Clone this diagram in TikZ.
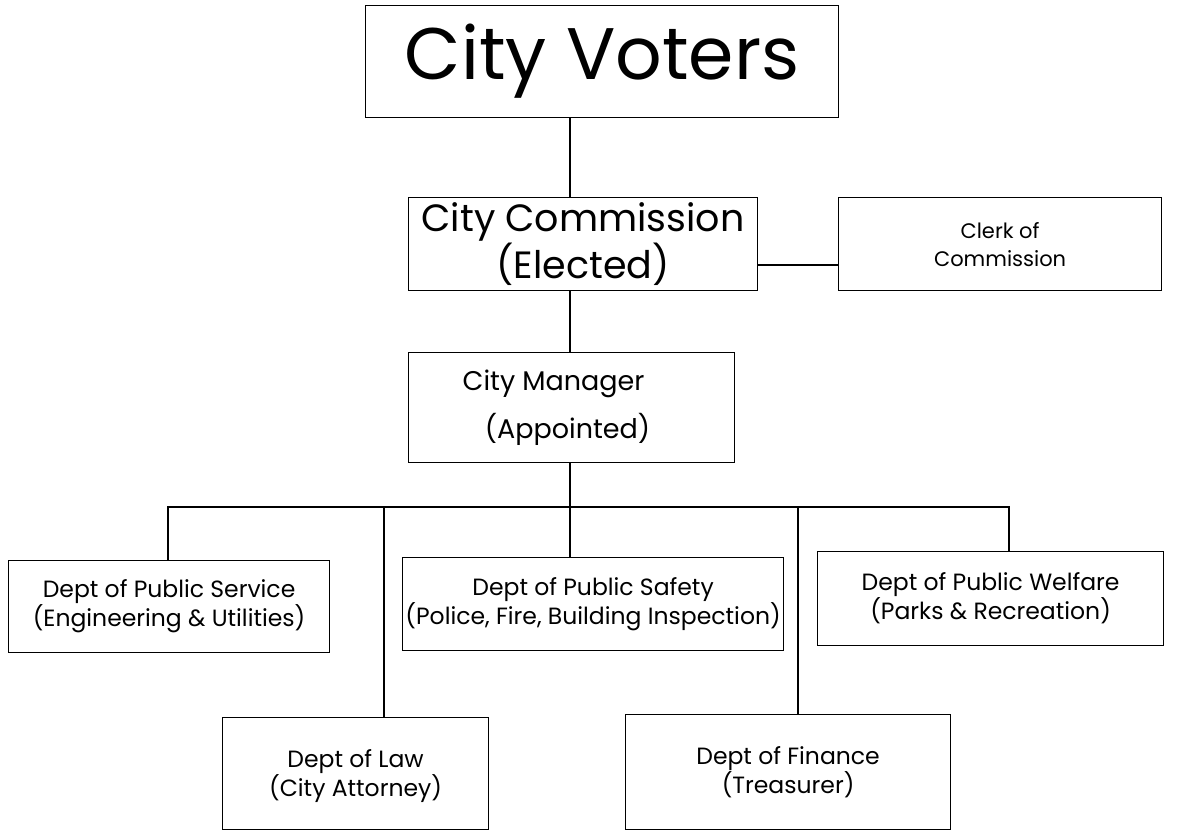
\documentclass[tikz,border=0pt]{standalone}
\usepackage{fontspec}
\setmainfont{Poppins}
\begin{document}
\begin{tikzpicture}[x=1pt,y=-1pt,
  box/.style={draw, line width=1.2pt, anchor=north west, inner sep=0pt, align=center},
  dept/.style={box, font=\fontsize{23.5}{28}\selectfont},
  conn/.style={line width=1.2pt}]
\useasboundingbox (0,0) rectangle (1180,831);
\fill[white] (0,0) rectangle (1180,831);
\node[box, minimum width=473pt, minimum height=112pt, font=\fontsize{73}{80}\selectfont] (voters) at (365,5) {City Voters};
\node[box, minimum width=349pt, minimum height=93pt, font=\fontsize{38}{42}\selectfont] (comm) at (408,197) {City Commission\\(Elected)};
\node[box, minimum width=323pt, minimum height=93pt, font=\fontsize{21}{28}\selectfont] (clerk) at (838,197) {Clerk of\\Commission};
\node[box, minimum width=326pt, minimum height=110pt, font=\fontsize{27}{48}\selectfont] (mgr) at (408,352) {City Manager\hspace*{36pt}\\(Appointed)\hspace*{8pt}};
\node[dept, minimum width=321pt, minimum height=92pt] (serv) at (8,560) {Dept of Public Service\\(Engineering \& Utilities)};
\node[dept, minimum width=381pt, minimum height=93pt] (safe) at (402,557) {Dept of Public Safety\\(Police, Fire, Building Inspection)};
\node[dept, minimum width=346pt, minimum height=94pt] (welf) at (817,551) {Dept of Public Welfare\\(Parks \& Recreation)};
\node[dept, minimum width=266pt, minimum height=112pt] (law) at (222,717) {\\[-6pt]Dept of Law\\(City Attorney)};
\node[dept, minimum width=325pt, minimum height=115pt] (fin) at (625,714) {Dept of Finance\\(Treasurer)};
\coordinate (bus) at (570,507);
\coordinate (busL) at (168,507);
\coordinate (busR) at (1009,507);
\coordinate (lawx) at (384,507);
\coordinate (finx) at (798,507);
\draw[conn] (bus |- voters.south) -- (bus |- comm.north);
\draw[conn] (bus |- comm.south) -- (bus |- mgr.north);
\draw[conn] (bus |- mgr.south) -- (bus);
\draw[conn] (comm.east |- 0,265) -- (clerk.west |- 0,265);
\draw[conn] (busL |- serv.north) -- (busL) -- (busR) -- (busR |- welf.north);
\draw[conn] (bus) -- (bus |- safe.north);
\draw[conn] (lawx) -- (lawx |- law.north);
\draw[conn] (finx) -- (finx |- fin.north);
\end{tikzpicture}
\end{document}
